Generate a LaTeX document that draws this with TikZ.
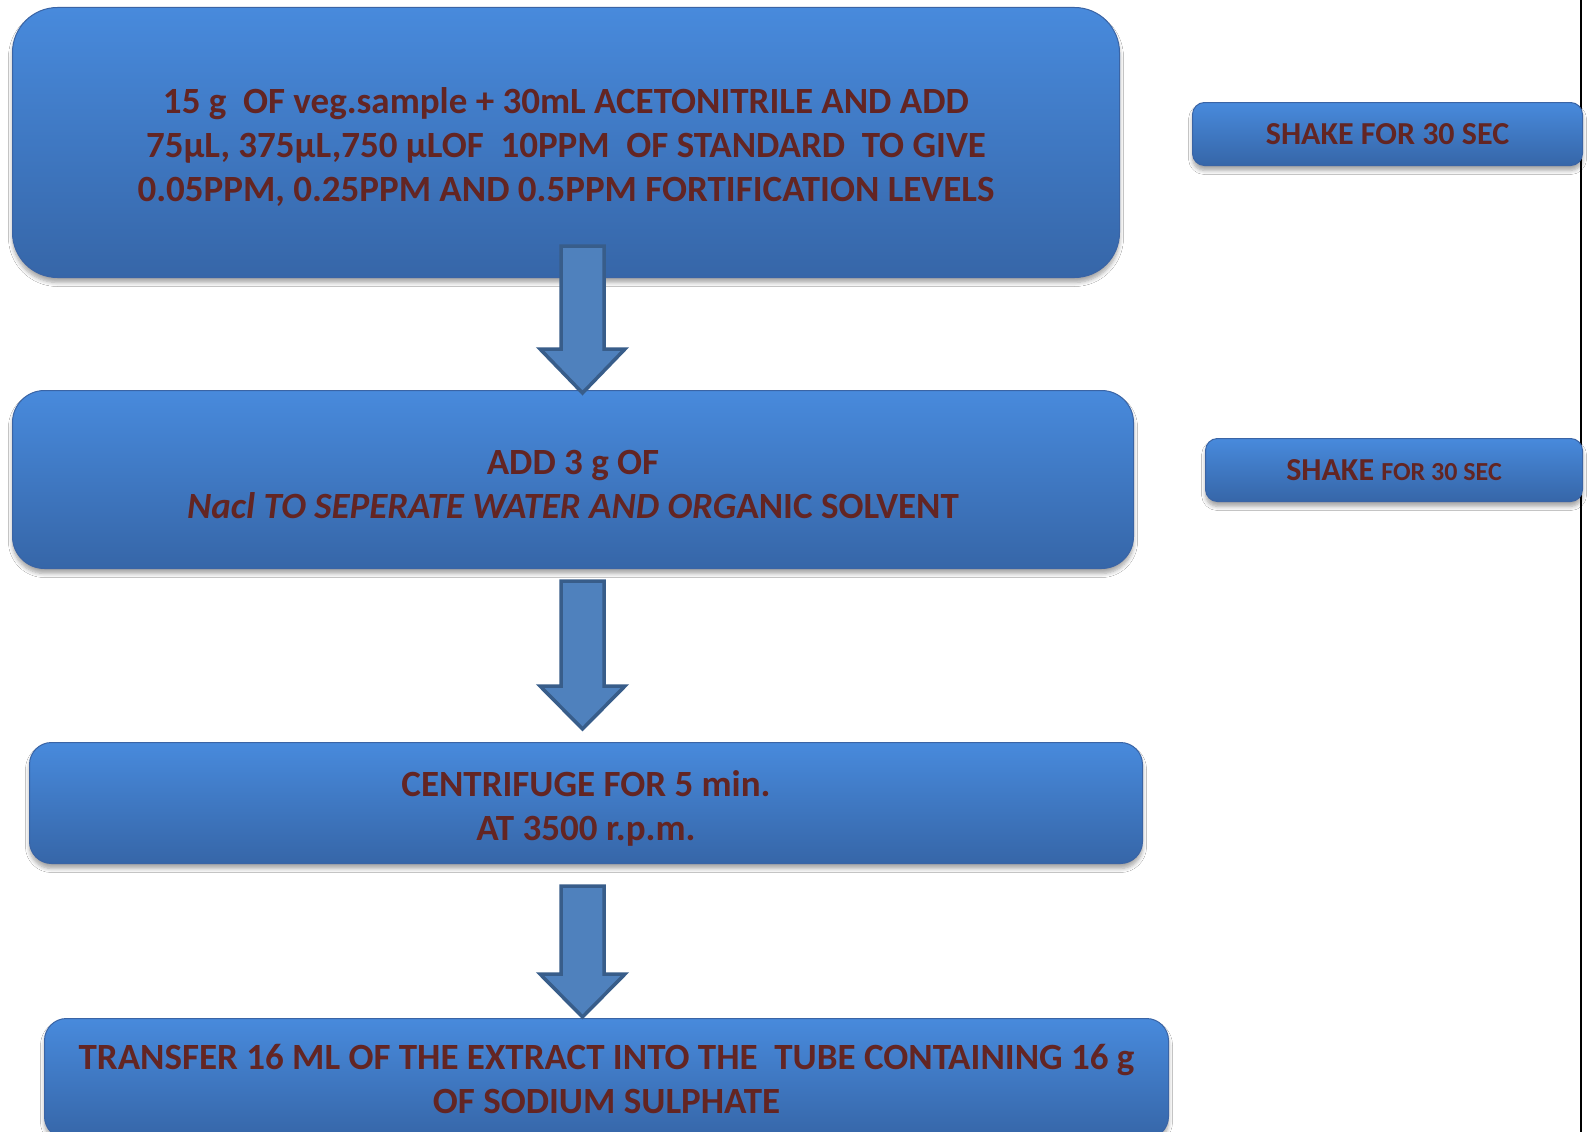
\documentclass[tikz,border=0pt]{standalone}
\usepackage{fontspec}
\setmainfont{Carlito}
\usetikzlibrary{shadows.blur}
\definecolor{txt}{RGB}{99,37,35}
\definecolor{boxtop}{RGB}{72,138,220}
\definecolor{boxbot}{RGB}{54,102,168}
\definecolor{boxline}{RGB}{58,100,165}
\definecolor{arrfill}{RGB}{79,129,189}
\definecolor{arrline}{RGB}{56,93,138}
\newcommand\upstrut[1]{\rule{0pt}{#1}}
\begin{document}
\begin{tikzpicture}[x=1pt,y=-1pt,
  stepbox/.style={rectangle, rounded corners=#1, top color=boxtop, bottom color=boxbot,
    draw=boxline, line width=1pt,
    blur shadow={shadow xshift=0pt, shadow yshift=-5pt, shadow blur steps=6, shadow blur radius=4pt, shadow opacity=35},
    text=txt, align=center, inner sep=0pt, anchor=north west},
  stepbox/.default=30pt,
  bigtext/.style={font=\bfseries\fontsize{37}{44}\selectfont},
  sidetext/.style={font=\bfseries\fontsize{32}{38}\selectfont},
  blockarrow/.style={fill=arrfill, draw=arrline, line width=3.5pt, line join=miter}
]
\useasboundingbox (0,0) rectangle (1591,1132);
\fill[white] (0,0) rectangle (1591,1132);
\draw[line width=1.6pt, black] (1581,0) -- (1581,1132);

% main steps
\node[stepbox=45pt, bigtext, minimum width=1107pt, minimum height=270pt] (s1) at (12,7)
  {\upstrut{36pt}15 g\ \ OF veg.sample + 30mL ACETONITRILE AND ADD\\
   75µL, 375µL,750 µLOF\ \ 10PPM\ \ OF STANDARD\ \ TO GIVE\\
   0.05PPM, 0.25PPM AND 0.5PPM FORTIFICATION LEVELS};
\node[stepbox=32pt, bigtext, minimum width=1121pt, minimum height=178pt] (s2) at (12,390)
  {\upstrut{34pt}ADD 3 g OF\\ {\itshape Nacl TO SEPERATE WATER AND ORG}ANIC SOLVENT};
\node[stepbox=22pt, bigtext, minimum width=1113pt, minimum height=121pt] (s3) at (29,742)
  {\upstrut{37pt}CENTRIFUGE FOR 5 min.\\ AT 3500 r.p.m.};
\node[stepbox=22pt, bigtext, minimum width=1124pt, minimum height=120pt] (s4) at (44,1018)
  {TRANSFER 16 ML OF THE EXTRACT INTO THE\ \ TUBE CONTAINING 16 g\\ OF SODIUM SULPHATE};

% side notes
\node[stepbox=12pt, sidetext, minimum width=390pt, minimum height=63pt] (n1) at (1192,102)
  {SHAKE FOR 30 SEC};
\node[stepbox=12pt, sidetext, minimum width=377pt, minimum height=63pt] (n2) at (1205,438)
  {SHAKE {\fontsize{26}{30}\selectfont FOR 30 SEC}};

% block arrows
\draw[blockarrow] (561,246) -- (604,246) -- (604,349) -- (625,349) -- (582.5,393) -- (540,349) -- (561,349) -- cycle;
\draw[blockarrow] (561,581) -- (604,581) -- (604,686) -- (625,686) -- (582.5,729) -- (540,686) -- (561,686) -- cycle;
\draw[blockarrow] (561,886) -- (604,886) -- (604,974) -- (625,974) -- (582.5,1017) -- (540,974) -- (561,974) -- cycle;
\end{tikzpicture}
\end{document}
